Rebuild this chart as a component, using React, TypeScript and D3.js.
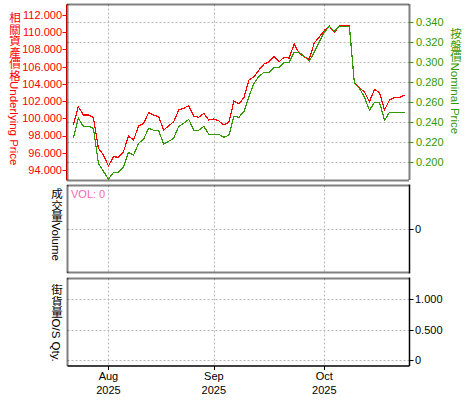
import React from 'react';
import * as d3 from 'd3';

const dates = [
  '2025-07-23','2025-07-24','2025-07-25','2025-07-28','2025-07-29','2025-07-30','2025-07-31',
  '2025-08-01','2025-08-04','2025-08-05','2025-08-06','2025-08-07','2025-08-08','2025-08-11','2025-08-12','2025-08-13','2025-08-14','2025-08-15','2025-08-18','2025-08-19','2025-08-20','2025-08-21','2025-08-22','2025-08-25','2025-08-26','2025-08-27','2025-08-28','2025-08-29',
  '2025-09-01','2025-09-02','2025-09-03','2025-09-04','2025-09-05','2025-09-08','2025-09-09','2025-09-10','2025-09-11','2025-09-12','2025-09-15','2025-09-16','2025-09-17','2025-09-18','2025-09-19','2025-09-22','2025-09-23','2025-09-24','2025-09-25','2025-09-26','2025-09-29','2025-09-30',
  '2025-10-02','2025-10-03','2025-10-06','2025-10-08','2025-10-09','2025-10-10','2025-10-13','2025-10-14','2025-10-15','2025-10-16','2025-10-17','2025-10-20','2025-10-21','2025-10-22','2025-10-23','2025-10-24','2025-10-27',
];

const underlying = [
  99.23, 101.35, 100.39, 100.39, 100.1, 96.52, 95.74,
  94.46, 95.54, 95.47, 96.13, 97.95, 97.48, 99.11, 99.42, 100.65, 100.39, 100.19, 98.65, 99.11, 99.61, 100.97, 101.17, 101.47, 100.27, 100.12, 100.58, 99.81,
  99.92, 99.69, 99.23, 99.54, 102.01, 101.66, 102.44, 104.45, 104.83, 105.61, 106.31, 106.58, 107.16, 106.58, 107.09, 107.0, 108.63, 107.55, 107.16, 106.86, 108.75, 109.45,
  110.2, 110.72, 109.97, 110.76, 110.76, 110.72, 104.07, 103.52, 103.06, 101.93, 103.37, 102.98, 100.97, 102.13, 102.4, 102.44, 102.71,
];

const nominal = [
  0.224, 0.244, 0.236, 0.236, 0.234, 0.199, 0.191,
  0.183, 0.19, 0.19, 0.195, 0.21, 0.207, 0.219, 0.223, 0.234, 0.232, 0.232, 0.218, 0.221, 0.224, 0.236, 0.239, 0.243, 0.232, 0.232, 0.236, 0.228,
  0.228, 0.228, 0.225, 0.227, 0.246, 0.245, 0.251, 0.266, 0.279, 0.286, 0.29, 0.29, 0.295, 0.295, 0.3, 0.3, 0.31, 0.31, 0.306, 0.301, 0.31, 0.32,
  0.33, 0.336, 0.331, 0.336, 0.336, 0.336, 0.279, 0.274, 0.265, 0.252, 0.26, 0.26, 0.242, 0.25, 0.25, 0.25, 0.25,
];

const leftTicks = [94, 96, 98, 100, 102, 104, 106, 108, 110, 112];
const rightTicks = [0.2, 0.22, 0.24, 0.26, 0.28, 0.3, 0.32, 0.34];
const volTicks = [0];
const qtyTicks = [0, 0.5, 1];
const monthLabels = ['Aug', 'Sep', 'Oct'];
const yearLabel = '2025';
const volText = 'VOL: 0';

const RED = '#ff0000';
const GREEN = '#339900';
const GRID = '#b8b8b8';
const FONT = "'Liberation Sans', 'Noto Sans CJK TC', sans-serif";

function VLabel(props: { x: number; y: number; text: string; color: string }) {
  return (
    <text x={props.x} y={props.y} fontSize={11.5} fill={props.color}
      style={{ writingMode: 'vertical-rl' as any }}>
      {props.text}
    </text>
  );
}

export default function App() {
  const L = 67.5, R = 409.5;
  const main = { top: 4.5, bottom: 180.5 };
  const vol = { top: 185.5, bottom: 272.5 };
  const qty = { top: 278.5, bottom: 366 };

  const x = d3.scaleLinear().domain([0, dates.length - 1]).range([73.3, 404.6]);
  const yL = d3.scaleLinear().domain([94, 112]).range([170, 15]);
  const yR = d3.scaleLinear().domain([0.2, 0.34]).range([162.3, 22.3]);
  const yV = d3.scaleLinear().domain([-1, 1]).range([273.3, 185.3]);
  const yQ = d3.scaleLinear().domain([0, 1]).range([360.3, 299.3]);

  // first trading day of each month shown
  const tickIdx: number[] = [];
  dates.forEach((d, i) => {
    if (i > 0 && d.slice(5, 7) !== dates[i - 1].slice(5, 7)) tickIdx.push(i);
  });

  const redLine = d3.line<number>().x((_, i) => x(i)).y((v) => yL(v))(underlying) || '';
  const greenLine = d3.line<number>().x((_, i) => x(i)).y((v) => yR(v))(nominal) || '';

  const fmt3 = (v: number) => (v === 0 ? '0' : v.toFixed(3));

  const panelFrame = (p: { top: number; bottom: number }, solidBottom = false) => (
    <g>
      <line x1={L} x2={R} y1={p.top} y2={p.top} stroke="#000" strokeWidth={2} strokeDasharray="1,1" />
      {solidBottom ? (
        <line x1={L} x2={R} y1={p.bottom} y2={p.bottom} stroke="#000" strokeWidth={1.5} />
      ) : (
        <line x1={L} x2={R} y1={p.bottom} y2={p.bottom} stroke="#000" strokeWidth={2} strokeDasharray="1,1" />
      )}
      <line x1={L} x2={L} y1={p.top} y2={p.bottom} stroke="#000" strokeWidth={2} strokeDasharray="1,1" />
    </g>
  );

  const vGrid = (p: { top: number; bottom: number }) =>
    tickIdx.map((i) => (
      <line key={'vg' + i} x1={Math.round(x(i)) + 0.5} x2={Math.round(x(i)) + 0.5} y1={p.top} y2={p.bottom}
        stroke={GRID} strokeDasharray="2,2" />
    ));

  return (
    <svg width={475} height={400} style={{ position: 'absolute', left: 0, top: 0, background: '#fff' }}
      fontFamily={FONT}>
      <rect x={0} y={0} width={475} height={400} fill="#fff" />

      {/* ===== Main panel ===== */}
      {vGrid(main)}
      {rightTicks.map((t) => (
        <line key={'hg' + t} x1={L} x2={R} y1={Math.round(yR(t)) + 0.5} y2={Math.round(yR(t)) + 0.5}
          stroke={GRID} strokeDasharray="2,2" />
      ))}
      <path d={redLine} fill="none" stroke={RED} strokeWidth={1.2} shapeRendering="crispEdges" />
      <path d={greenLine} fill="none" stroke={GREEN} strokeWidth={1.2} shapeRendering="crispEdges" />

      <line x1={L - 1} x2={L - 1} y1={main.top} y2={main.bottom} stroke={RED} strokeWidth={1} />
      {panelFrame(main)}
      <line x1={R} x2={R} y1={main.top} y2={main.bottom} stroke="#000" strokeWidth={2} strokeDasharray="1,1" />

      {leftTicks.map((t) => (
        <g key={'lt' + t}>
          <line x1={L - 5} x2={L - 1} y1={Math.round(yL(t)) + 0.5} y2={Math.round(yL(t)) + 0.5} stroke={RED} />
          <text x={62} y={yL(t)} dy="0.35em" textAnchor="end" fontSize={11} fill={RED}>{fmt3(t)}</text>
        </g>
      ))}
      {rightTicks.map((t) => (
        <g key={'rt' + t}>
          <line x1={R} x2={R + 4} y1={Math.round(yR(t)) + 0.5} y2={Math.round(yR(t)) + 0.5} stroke={GREEN} />
          <text x={416} y={yR(t)} dy="0.35em" textAnchor="start" fontSize={11} fill={GREEN}>{fmt3(t)}</text>
        </g>
      ))}

      <VLabel x={14} y={12} text="相關資產價格Underlying Price" color={RED} />
      <VLabel x={455} y={28} text="按盤價Nominal Price" color={GREEN} />

      {/* ===== Volume panel ===== */}
      {vGrid(vol)}
      {volTicks.map((t) => (
        <g key={'vt' + t}>
          <line x1={L} x2={R} y1={Math.round(yV(t)) + 0.5} y2={Math.round(yV(t)) + 0.5} stroke={GRID} strokeDasharray="2,2" />
          <line x1={R} x2={R + 4} y1={Math.round(yV(t)) + 0.5} y2={Math.round(yV(t)) + 0.5} stroke="#000" />
          <text x={415} y={yV(t)} dy="0.35em" fontSize={11} fill="#000">{fmt3(t)}</text>
        </g>
      ))}
      {panelFrame(vol)}
      <line x1={R} x2={R} y1={vol.top - 1} y2={vol.bottom + 1} stroke="#000" strokeWidth={1.5} />
      <text x={71} y={198} fontSize={11} fill="#ff66b3">{volText}</text>
      <VLabel x={56} y={188} text="成交量Volume" color="#000" />

      {/* ===== Qty panel ===== */}
      {vGrid(qty)}
      {qtyTicks.map((t) => (
        <g key={'qt' + t}>
          <line x1={L} x2={R} y1={Math.round(yQ(t)) + 0.5} y2={Math.round(yQ(t)) + 0.5} stroke={GRID} strokeDasharray="2,2" />
          <line x1={R} x2={R + 4} y1={Math.round(yQ(t)) + 0.5} y2={Math.round(yQ(t)) + 0.5} stroke="#000" />
          <text x={415} y={yQ(t)} dy="0.35em" fontSize={11} fill="#000">{fmt3(t)}</text>
        </g>
      ))}
      {panelFrame(qty, true)}
      <line x1={R} x2={R} y1={qty.top - 1} y2={qty.bottom} stroke="#000" strokeWidth={1.5} />
      <VLabel x={56} y={284} text="街貨量O/S Qty." color="#000" />

      {/* ===== X axis ===== */}
      {tickIdx.map((i, k) => (
        <g key={'xt' + i}>
          <line x1={Math.round(x(i)) + 0.5} x2={Math.round(x(i)) + 0.5} y1={qty.bottom} y2={qty.bottom + 4} stroke="#000" />
          <text x={x(i)} y={380} textAnchor="middle" fontSize={11} fill="#000">{monthLabels[k]}</text>
          <text x={x(i)} y={394} textAnchor="middle" fontSize={11} fill="#000">{yearLabel}</text>
        </g>
      ))}
    </svg>
  );
}
